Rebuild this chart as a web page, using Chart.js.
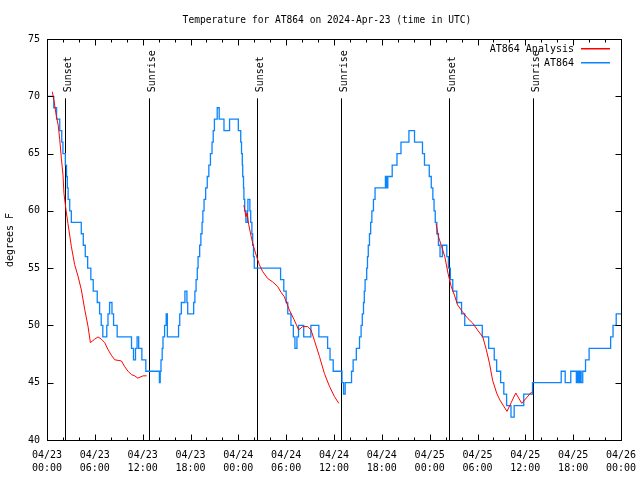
<!DOCTYPE html>
<html>
<head>
<meta charset="utf-8">
<title>Temperature for AT864</title>
<script src="https://cdn.jsdelivr.net/npm/chart.js@4"></script>
<style>
  html, body { margin: 0; padding: 0; background: #fff; }
  #chart { display: block; }
</style>
</head>
<body>
<canvas id="chart" width="640" height="480"></canvas>
<script>
// hours since 2024-04-23 00:00 UTC
const xTickLabels = [
  ['04/23', '00:00'], ['04/23', '06:00'], ['04/23', '12:00'], ['04/23', '18:00'],
  ['04/24', '00:00'], ['04/24', '06:00'], ['04/24', '12:00'], ['04/24', '18:00'],
  ['04/25', '00:00'], ['04/25', '06:00'], ['04/25', '12:00'], ['04/25', '18:00'],
  ['04/26', '00:00']
];
const yTicks = [40, 45, 50, 55, 60, 65, 70, 75];

const sunsetHours = [2.3, 26.4, 50.45];
const sunriseHours = [12.85, 36.87, 60.9];

// AT864 observations (whole degrees F), each value holds until the next time
const obsHours = [
  0, 0.85, 1.2, 1.6, 1.85, 2.0, 2.3, 2.45, 2.55, 2.65, 2.85, 3.05,
  4.3, 4.55, 4.8, 5.1, 5.5, 5.8, 6.3, 6.6, 6.8, 7.0, 7.5, 7.65, 7.85, 8.15, 8.35, 8.8,
  10.6, 10.85, 11.1, 11.3, 11.5, 11.9, 12.4, 14.1, 14.2, 14.3, 14.45, 14.55, 14.75, 14.95, 15.1,
  16.5, 16.65, 16.85, 17.3, 17.55, 17.65, 18.4, 18.55, 18.7, 18.85, 18.95, 19.15, 19.3,
  19.45, 19.55, 19.7, 19.9, 20.1, 20.3, 20.5, 20.7, 20.85, 21.0, 21.35, 21.6, 22.2, 22.9,
  24.0, 24.3, 24.4, 24.5, 24.55, 24.65, 24.7, 24.8, 24.95, 25.15, 25.2, 25.45, 25.55,
  25.7, 25.8, 25.9, 26.0, 29.3, 29.7, 30.0, 30.2, 30.6, 30.9, 31.1, 31.35, 31.55,
  32.2, 33.1, 34.1, 35.2, 35.5, 35.9, 37.0, 37.2, 37.4, 38.2, 38.4, 38.8, 39.2, 39.4,
  39.55, 39.7, 39.8, 39.9, 40.1, 40.2, 40.3, 40.45, 40.6, 40.75, 40.95, 41.15, 42.45,
  42.6, 42.75, 43.3, 43.9, 44.4, 45.4, 46.1, 47.1, 47.35, 47.95, 48.2, 48.4, 48.55,
  48.7, 48.9, 49.1, 49.3, 49.6, 50.15, 50.35, 50.6, 50.9, 51.4, 52.0, 52.4, 54.6,
  55.4, 56.1, 56.4, 56.9, 57.3, 57.65, 58.2, 58.6, 59.8, 60.9, 64.5, 65.0, 65.7,
  66.4, 66.55, 66.7, 66.85, 67.0, 67.2, 67.55, 68.0, 70.7, 71.0, 71.4, 72
];
const obsTemps = [
  70, 69, 68, 67, 66, 65, 64, 63, 62, 61, 60, 59,
  58, 57, 56, 55, 54, 53, 52, 51, 50, 49, 50, 51, 52, 51, 50, 49,
  48, 47, 48, 49, 48, 47, 46, 45, 46, 47, 48, 49, 50, 51, 49,
  50, 51, 52, 53, 52, 51, 52, 53, 54, 55, 56, 57, 58,
  59, 60, 61, 62, 63, 64, 65, 66, 67, 68, 69, 68, 67, 68,
  67, 66, 65, 64, 63, 62, 61, 60, 59, 60, 61, 60, 59,
  58, 57, 56, 55, 54, 53, 52, 51, 50, 49, 48, 49, 50,
  49, 50, 49, 48, 47, 46, 45, 44, 45, 46, 47, 48, 49, 50,
  51, 52, 53, 54, 55, 56, 57, 58, 59, 60, 61, 62, 63,
  62, 63, 64, 65, 66, 67, 66, 65, 64, 63, 62, 61, 60,
  59, 58, 57, 56, 57, 56, 55, 54, 53, 52, 51, 50, 49,
  48, 47, 46, 45, 44, 43, 42, 43, 44, 45, 46, 45, 46,
  45, 46, 45, 46, 45, 46, 47, 48, 49, 50, 51, 51
];

// AT864 Analysis (null = gap)
const anaHours = [
  0.67, 0.9, 1.17, 1.4, 1.6, 1.8, 2.0, 2.13, 2.42, 2.63, 3.05, 3.47, 3.89, 4.31, 4.73,
  5.15, 5.44, 5.98, 6.4, 6.82, 7.24, 7.65, 8.07, 8.5, 9.33, 9.75, 10.17, 10.6, 11.0,
  11.4, 12.05, 12.5,
  18,
  24.7, 24.95, 25.1, 25.3, 25.6, 25.9, 26.3, 26.64, 27.06, 27.68, 28.3, 28.93, 29.35,
  29.77, 30.4, 31.0, 31.57, 32.07, 32.7, 33.12, 33.54, 34.17, 34.8, 35.42, 36.05, 36.6,
  42,
  48.8, 49.1, 49.5, 49.9, 50.3, 50.7, 51.1, 51.5, 52.1, 52.8, 53.4, 54.0, 54.66, 55.1,
  55.5, 55.9, 56.4, 56.8, 57.2, 57.7, 58.8, 59.55, 60.8
];
const anaTemps = [
  70.4, 69.5, 68.3, 67.5, 66.2, 64.6, 63.2, 61.5, 59.9, 58.9, 56.9, 55.3, 54.3, 53.1, 51.4,
  49.9, 48.5, 48.8, 49.0, 48.8, 48.5, 47.9, 47.4, 47.0, 46.9, 46.4, 46.0, 45.7, 45.6,
  45.4, 45.6, 45.6,
  null,
  60.5, 59.5, 59.8, 58.8, 57.8, 56.9, 56.0, 55.3, 54.7, 54.1, 53.8, 53.4, 52.9,
  52.5, 51.35, 50.5, 49.6, 49.9, 49.9, 49.6, 48.7, 47.3, 45.8, 44.7, 43.8, 43.2,
  null,
  58.9, 57.75, 56.9, 56.0, 54.55, 53.4, 52.65, 51.8, 51.2, 50.6, 50.2, 49.6, 49.0, 47.9,
  46.7, 45.2, 44.1, 43.5, 43.05, 42.5, 44.1, 43.2, 44.2
];

const FONT = '"DejaVu Sans Mono", "Liberation Mono", monospace';
const RED = '#ff0000';
const BLUE = '#0a84ff';

/* Frame, inward ticks, day/night markers, title and legend drawn like gnuplot */
const gnuplotFrame = {
  id: 'gnuplotFrame',
  beforeDatasetsDraw(chart) {
    const { ctx, chartArea: a, scales: { x, y } } = chart;
    ctx.save();
    ctx.strokeStyle = '#000';
    ctx.lineWidth = 1;
    ctx.fillStyle = '#000';
    ctx.font = '10px ' + FONT;
    const top = y.getPixelForValue(70);
    const marks = sunsetHours.map(h => [h, 'Sunset'])
      .concat(sunriseHours.map(h => [h, 'Sunrise']));
    marks.forEach(([h, label]) => {
      const px = Math.round(x.getPixelForValue(h)) + 0.5;
      ctx.beginPath();
      ctx.moveTo(px, top + 2);
      ctx.lineTo(px, a.bottom);
      ctx.stroke();
      ctx.save();
      ctx.translate(px + 5, top - 4);
      ctx.rotate(-Math.PI / 2);
      ctx.textAlign = 'left';
      ctx.textBaseline = 'alphabetic';
      ctx.fillText(label, 0, 0);
      ctx.restore();
    });
    ctx.restore();
  },
  afterDatasetsDraw(chart) {
    const { ctx, chartArea: a, scales: { x, y } } = chart;
    ctx.save();
    ctx.strokeStyle = '#000';
    ctx.lineWidth = 1;
    const L = Math.round(a.left) + 0.5, R = Math.round(a.right) + 0.5;
    const T = Math.round(a.top) + 0.5, B = Math.round(a.bottom) + 0.5;
    ctx.strokeRect(L, T, R - L, B - T);

    ctx.beginPath();
    for (let h = 0; h <= 72; h += 2) {
      const px = Math.round(x.getPixelForValue(h)) + 0.5;
      const len = h % 6 === 0 ? 6 : 3;
      ctx.moveTo(px, B); ctx.lineTo(px, B - len);
      ctx.moveTo(px, T); ctx.lineTo(px, T + len);
    }
    yTicks.forEach(v => {
      const py = Math.round(y.getPixelForValue(v)) + 0.5;
      ctx.moveTo(L, py); ctx.lineTo(L + 6, py);
      ctx.moveTo(R, py); ctx.lineTo(R - 6, py);
    });
    ctx.stroke();

    // title
    ctx.fillStyle = '#000';
    ctx.font = '9.6px ' + FONT;
    ctx.textAlign = 'center';
    ctx.textBaseline = 'middle';
    ctx.fillText('Temperature for AT864 on 2024-Apr-23 (time in UTC)', 327, 20);

    // y axis title
    ctx.font = '10px ' + FONT;
    ctx.save();
    ctx.translate(10, 240);
    ctx.rotate(-Math.PI / 2);
    ctx.fillText('degrees F', 0, 0);
    ctx.restore();

    // legend
    const legend = [['AT864 Analysis', RED, 49], ['AT864', BLUE, 63]];
    ctx.textAlign = 'right';
    legend.forEach(([text, color, ly]) => {
      ctx.fillStyle = '#000';
      ctx.fillText(text, 574, ly);
      ctx.fillStyle = color;
      ctx.fillRect(581, ly - 1, 29, 1.5);
    });
    ctx.restore();
  }
};

function initChart() {
  const canvas = document.getElementById('chart');
  new Chart(canvas, {
    type: 'line',
    data: {
      datasets: [
        {
          label: 'AT864 Analysis',
          data: anaHours.map((h, i) => ({ x: h, y: anaTemps[i] })),
          borderColor: RED,
          borderWidth: 1,
          pointRadius: 0,
          spanGaps: false,
          tension: 0
        },
        {
          label: 'AT864',
          data: obsHours.map((h, i) => ({ x: h, y: obsTemps[i] })),
          borderColor: BLUE,
          borderWidth: 1.3,
          pointRadius: 0,
          stepped: 'before'
        }
      ]
    },
    options: {
      responsive: false,
      animation: false,
      devicePixelRatio: 1,
      layout: { padding: { top: 39, right: 19, left: 0, bottom: 0 } },
      plugins: {
        legend: { display: false },
        title: { display: false },
        tooltip: { enabled: false }
      },
      scales: {
        x: {
          type: 'linear',
          min: 0,
          max: 72,
          afterFit: s => {
            s.height = 40;
            s.paddingLeft = 0;
            s.paddingRight = 0;
          },
          grid: { display: false, drawTicks: false },
          border: { display: false },
          ticks: {
            stepSize: 6,
            autoSkip: false,
            maxRotation: 0,
            padding: 9,
            color: '#000',
            font: { family: FONT, size: 10, lineHeight: 1.3 },
            callback: v => xTickLabels[Math.round(v / 6)]
          }
        },
        y: {
          min: 40,
          max: 75,
          afterFit: s => {
            s.width = 47;
            s.paddingTop = 0;
            s.paddingBottom = 0;
          },
          grid: { display: false, drawTicks: false },
          border: { display: false },
          ticks: {
            stepSize: 5,
            padding: 7,
            color: '#000',
            font: { family: FONT, size: 10 }
          }
        }
      }
    },
    plugins: [gnuplotFrame]
  });
}

document.addEventListener('DOMContentLoaded', initChart);
</script>
</body>
</html>
